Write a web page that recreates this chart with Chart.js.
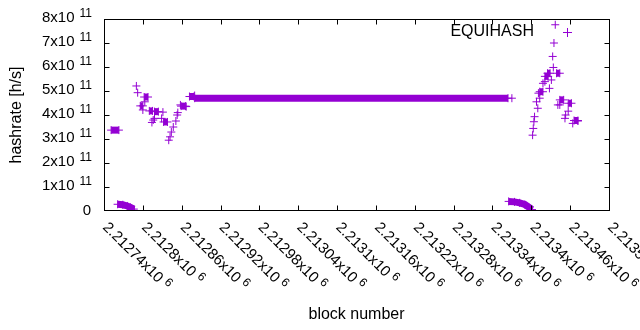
<!DOCTYPE html>
<html><head><meta charset="utf-8">
<script src="https://cdn.jsdelivr.net/npm/chart.js@4.4.1/dist/chart.umd.min.js"></script>
<style>html,body{margin:0;padding:0;background:#fff}#wrap{width:640px;height:330px}</style>
</head><body><div id="wrap"><canvas id="c" width="640" height="330"></canvas></div>
<script>
// ---------------- data ----------------
const seriesName = 'EQUIHASH';
const xTitle = 'block number';
const yTitle = 'hashrate [h/s]';
const xTickValues = [2212740, 2212800, 2212860, 2212920, 2212980, 2213040, 2213100, 2213160, 2213220, 2213280, 2213340, 2213400, 2213460, 2213520];
const xTickLabels = ['2.21274', '2.2128', '2.21286', '2.21292', '2.21298', '2.21304', '2.2131', '2.21316', '2.21322', '2.21328', '2.21334', '2.2134', '2.21346', '2.21352'];
const xTickExponent = '6';
const yTickValues = [0, 1e11, 2e11, 3e11, 4e11, 5e11, 6e11, 7e11, 8e11];
const yTickLabels = ['0', '1', '2', '3', '4', '5', '6', '7', '8'];
const yTickExponent = '11';

// isolated blocks
const pointBlocks = [2212787, 2212790, 2212792, 2212800, 2212803, 2212814, 2212816, 2212818, 2212829, 2212831,
  2212840, 2212842, 2212844, 2212847, 2212851, 2212853, 2212854, 2212858, 2212867, 2212880,
  2213370, 2213402,
  2213402, 2213403, 2213404, 2213405, 2213408, 2213410, 2213411, 2213413, 2213418, 2213421,
  2213428, 2213431, 2213433, 2213434, 2213435, 2213437, 2213441, 2213444, 2213452, 2213453,
  2213457, 2213464, 2213472];
const pointHashrates = [0.02e11, 5.21e11, 4.93e11, 4.21e11, 4.55e11, 3.69e11, 3.79e11, 3.86e11, 3.86e11, 4.12e11,
  2.95e11, 3.09e11, 3.29e11, 3.50e11, 3.75e11, 4.00e11, 4.10e11, 4.42e11, 4.35e11, 4.81e11,
  4.70e11, 0.02e11,
  3.16e11, 3.44e11, 3.72e11, 3.93e11, 4.55e11, 4.28e11, 4.91e11, 4.70e11, 5.32e11, 5.39e11,
  5.11e11, 5.46e11, 6.44e11, 5.98e11, 7.00e11, 7.76e11, 4.42e11, 4.42e11, 3.86e11, 4.00e11,
  4.16e11, 3.65e11, 3.75e11];

// dense runs of consecutive blocks with the same estimate
const runFirstBlocks = [2212751, 2212796, 2212802, 2212810, 2212818, 2212832, 2212859, 2212872, 2212880,
  2213413, 2213421, 2213425, 2213439, 2213444, 2213457, 2213466];
const runLastBlocks = [2212763, 2212800, 2212808, 2212815, 2212824, 2212838, 2212866, 2212879, 2213364,
  2213418, 2213426, 2213429, 2213444, 2213450, 2213462, 2213472];
const runHashrates = [3.37e11, 4.38e11, 4.75e11, 4.17e11, 4.14e11, 3.71e11, 4.37e11, 4.77e11, 4.70e11,
  4.97e11, 5.61e11, 5.74e11, 5.74e11, 4.63e11, 4.49e11, 3.77e11];

// dense descending runs near zero
const tailLeftBlocks = [2212761, 2212769, 2212776, 2212781, 2212786];
const tailLeftHashrates = [0.28e11, 0.26e11, 0.21e11, 0.15e11, 0.08e11];
const tailRightBlocks = [2213365, 2213374, 2213382, 2213390, 2213396, 2213401];
const tailRightHashrates = [0.40e11, 0.38e11, 0.34e11, 0.27e11, 0.16e11, 0.06e11];

// ---------------- chart ----------------
const PURPLE = '#9400d3';
const FONT = '"Liberation Sans", Arial, sans-serif';

const zip = (xs, ys) => xs.map((x, i) => ({x: x, y: ys[i]}));
const runStyle = {
  type: 'line', showLine: true, borderColor: PURPLE, backgroundColor: PURPLE,
  borderWidth: 7, borderCapStyle: 'butt', tension: 0,
  pointStyle: 'cross', pointRadius: 4, pointBorderWidth: 1,
  pointBorderColor: PURPLE, pointBackgroundColor: PURPLE, pointHoverRadius: 4
};
const datasets = [{
  label: seriesName, type: 'scatter', data: zip(pointBlocks, pointHashrates),
  showLine: false, pointStyle: 'cross', pointRadius: 4, pointBorderWidth: 1,
  borderColor: PURPLE, backgroundColor: PURPLE, pointHoverRadius: 4
}];
runFirstBlocks.forEach((b, i) => {
  datasets.push(Object.assign({label: seriesName, data: [{x: b, y: runHashrates[i]}, {x: runLastBlocks[i], y: runHashrates[i]}]}, runStyle));
});
datasets.push(Object.assign({label: seriesName, data: zip(tailLeftBlocks, tailLeftHashrates)}, runStyle));
datasets.push(Object.assign({label: seriesName, data: zip(tailRightBlocks, tailRightHashrates)}, runStyle));

const decor = {
  id: 'decor',
  afterDatasetsDraw(chart) {
    const ctx = chart.ctx, a = chart.chartArea, xs = chart.scales.x, ys = chart.scales.y;
    ctx.save();
    ctx.strokeStyle = '#000'; ctx.lineWidth = 1;
    const L = Math.round(a.left) + 0.5, R = Math.round(a.right) + 0.5;
    const T = Math.round(a.top) + 0.5, B = Math.round(a.bottom) - 0.5;
    ctx.strokeRect(L, T, R - L, B - T);
    ctx.beginPath();
    xTickValues.forEach(v => {
      const px = Math.min(R, Math.max(L, Math.round(xs.getPixelForValue(v)) + 0.5));
      ctx.moveTo(px, B); ctx.lineTo(px, B - 5);
      ctx.moveTo(px, T); ctx.lineTo(px, T + 5);
    });
    yTickValues.forEach(v => {
      const py = Math.min(B, Math.max(T, Math.round(ys.getPixelForValue(v)) + 0.5));
      ctx.moveTo(L, py); ctx.lineTo(L + 5, py);
      ctx.moveTo(R, py); ctx.lineTo(R - 5, py);
    });
    ctx.stroke();

    ctx.fillStyle = '#000';
    // y tick labels
    yTickValues.forEach((v, i) => {
      const py = ys.getPixelForValue(v);
      const endX = 92;
      if (yTickLabels[i] === '0') {
        ctx.font = '15px ' + FONT; ctx.textAlign = 'right'; ctx.textBaseline = 'middle';
        ctx.fillText('0', endX - 1, py);
        return;
      }
      ctx.font = '12px ' + FONT;
      const supW = ctx.measureText(yTickExponent).width;
      ctx.textAlign = 'left'; ctx.textBaseline = 'middle';
      ctx.fillText(yTickExponent, endX - supW, py - 5);
      ctx.font = '15px ' + FONT; ctx.textAlign = 'right';
      ctx.fillText(yTickLabels[i] + 'x10', endX - supW - 5, py - 1);
    });
    // x tick labels (rotated)
    xTickValues.forEach((v, i) => {
      const px = xs.getPixelForValue(v);
      ctx.save();
      ctx.translate(px + 1, 225);
      ctx.rotate(Math.PI / 4);
      ctx.font = '15px ' + FONT; ctx.textAlign = 'left'; ctx.textBaseline = 'middle';
      const base = xTickLabels[i] + 'x10';
      ctx.fillText(base, 0, 0);
      const w = ctx.measureText(base).width;
      ctx.font = '12px ' + FONT;
      ctx.fillText(xTickExponent, w + 4, -4);
      ctx.restore();
    });
    // axis titles
    ctx.font = '16px ' + FONT; ctx.textAlign = 'center'; ctx.textBaseline = 'middle';
    ctx.fillText(xTitle, (a.left + a.right) / 2, 315);
    ctx.save();
    ctx.translate(17, (a.top + a.bottom) / 2);
    ctx.rotate(-Math.PI / 2);
    ctx.fillText(yTitle, 0, 0);
    ctx.restore();
    // key
    ctx.textAlign = 'right';
    ctx.fillText(seriesName, 534, 32);
    ctx.strokeStyle = PURPLE;
    ctx.beginPath();
    ctx.moveTo(563, 32.5); ctx.lineTo(572, 32.5);
    ctx.moveTo(567.5, 28); ctx.lineTo(567.5, 37);
    ctx.stroke();
    ctx.restore();
  }
};

new Chart(document.getElementById('c'), {
  type: 'scatter',
  data: {datasets: datasets},
  options: {
    responsive: false, animation: false, devicePixelRatio: 1,
    layout: {padding: {left: 104, right: 31, top: 19, bottom: 119}},
    scales: {
      x: {type: 'linear', min: 2212740, max: 2213520, display: false},
      y: {type: 'linear', min: 0, max: 8e11, display: false}
    },
    plugins: {legend: {display: false}, tooltip: {enabled: false}},
    events: []
  },
  plugins: [decor]
});
</script>
</body></html>
